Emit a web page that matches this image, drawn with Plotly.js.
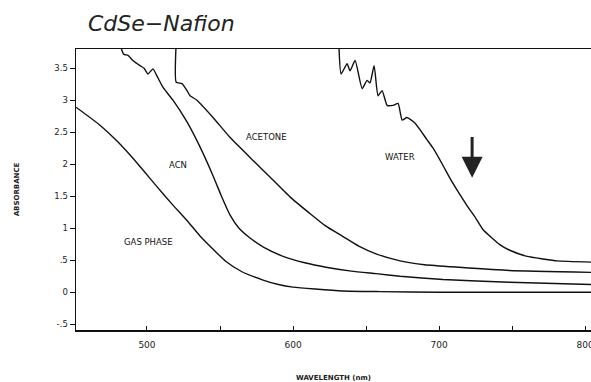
<!DOCTYPE html>
<html>
<head>
<meta charset="utf-8">
<script src="https://cdn.plot.ly/plotly-3.0.1.min.js"></script>
<style>html,body{margin:0;padding:0;background:#fff;}#chart{width:591px;height:382px;}</style>
</head>
<body>
<div id="chart"></div>
<script>
// Wavelength (nm) and absorbance readings per medium
const gasX = [451.4, 467.8, 480, 493.2, 506.8, 517, 527.4, 536.3, 554.1, 565, 579.5, 590, 600, 615, 634, 660, 700, 750, 804];
const gasY = [2.89, 2.61, 2.35, 2.02, 1.65, 1.38, 1.12, 0.88, 0.48, 0.32, 0.19, 0.12, 0.08, 0.05, 0.02, 0.01, 0.0, 0.0, 0.0];

const acnX = [482.5, 484, 487, 490.4, 495.2, 498, 500.7, 504.1, 506.8, 511, 517.8, 527.4, 536.3, 545.2, 551, 557, 563, 569.9, 580, 593.2, 608, 622.6, 640, 656.8, 673.3, 702.7, 748, 804];
const acnY = [3.8, 3.72, 3.7, 3.62, 3.54, 3.5, 3.41, 3.49, 3.38, 3.2, 3.0, 2.66, 2.27, 1.82, 1.5, 1.2, 1.0, 0.86, 0.7, 0.56, 0.46, 0.39, 0.33, 0.29, 0.25, 0.2, 0.155, 0.12];

const acetoneX = [519.8, 520, 524, 527.4, 529.5, 534.2, 545.2, 556.8, 572.6, 584.2, 597.9, 611, 622, 634.2, 645, 656.8, 673.3, 690, 713.7, 748, 804];
const acetoneY = [3.8, 3.28, 3.26, 3.15, 3.07, 3.0, 2.73, 2.42, 2.06, 1.8, 1.49, 1.24, 1.04, 0.87, 0.72, 0.6, 0.49, 0.43, 0.39, 0.34, 0.31];

const waterX = [631.5, 632.9, 637, 639, 642.5, 647.3, 650.7, 652.7, 655.5, 658.2, 661, 664.4, 668.5, 671.9, 674.7, 678, 683.6, 691.8, 695.9, 702.7, 707.5, 714.4, 719.2, 725.3, 730, 741.8, 748, 760.3, 771.2, 780.8, 804];
const waterY = [3.8, 3.41, 3.57, 3.46, 3.62, 3.18, 3.31, 3.27, 3.54, 3.07, 3.15, 2.92, 2.92, 2.95, 2.69, 2.73, 2.64, 2.38, 2.25, 1.98, 1.78, 1.52, 1.35, 1.15, 0.98, 0.74, 0.66, 0.56, 0.52, 0.49, 0.47];

const curveLabels = ["GAS PHASE", "ACN", "ACETONE", "WATER"];
const labelX = [501, 521, 582, 673];
const labelY = [0.79, 1.99, 2.42, 2.11];

const xTickVals = [500, 550, 600, 650, 700, 750, 800];
const xTickText = ["500", "", "600", "", "700", "", "800"];
const yTickVals = [-0.5, 0, 0.5, 1, 1.5, 2, 2.5, 3, 3.5];
const yTickText = ["-.5", "0", ".5", "1", "1.5", "2", "2.5", "3", "3.5"];

const arrowX = 722.6, arrowTop = 2.45, arrowTip = 1.79;

const lineStyle = {color: "#111", width: 1.4, shape: "spline", smoothing: 0.5};
const traces = [
  {x: gasX, y: gasY, name: "GAS PHASE"},
  {x: acnX, y: acnY, name: "ACN"},
  {x: acetoneX, y: acetoneY, name: "ACETONE"},
  {x: waterX, y: waterY, name: "WATER"}
].map(t => Object.assign(t, {type: "scatter", mode: "lines", line: lineStyle, hoverinfo: "skip", cliponaxis: true}));

const font = "DejaVu Sans, Arial, sans-serif";
const annotations = curveLabels.map((t, i) => ({
  x: labelX[i], y: labelY[i], text: t, showarrow: false,
  font: {family: font, size: 8.5, color: "#111"}
}));
annotations.push({
  x: arrowX, y: arrowTip, ax: arrowX, ay: arrowTop, axref: "x", ayref: "y",
  showarrow: true, arrowhead: 2, arrowsize: 1.4, arrowwidth: 3, arrowcolor: "#222", text: ""
});

const layout = {
  width: 591, height: 382,
  margin: {l: 76, r: 0, t: 49, b: 52},
  paper_bgcolor: "#fff", plot_bgcolor: "#fff",
  showlegend: false,
  title: {
    text: "<i>CdSe\u2212Nafion</i>",
    font: {family: "DejaVu Sans, sans-serif", size: 22, color: "#222"},
    xref: "container", yref: "container", x: 0.273, xanchor: "center", y: 0.94, yanchor: "middle"
  },
  xaxis: {
    range: [451.4, 804], showgrid: false, zeroline: false,
    showline: true, linecolor: "#111", linewidth: 1.5, mirror: true,
    ticks: "inside", ticklen: 4, tickcolor: "#111",
    tickvals: xTickVals, ticktext: xTickText,
    tickfont: {family: font, size: 9, color: "#222"},
    ticklabelstandoff: 6, ticklabeloverflow: "allow",
    title: {text: "<b>WAVELENGTH (nm)</b>", font: {family: font, size: 7, color: "#222"}, standoff: 28}
  },
  yaxis: {
    range: [-0.59, 3.8], showgrid: false, zeroline: false,
    showline: true, linecolor: "#111", linewidth: 1.5,
    ticks: "outside", ticklen: 5, tickcolor: "#111",
    tickvals: yTickVals, ticktext: yTickText,
    tickfont: {family: font, size: 8.5, color: "#222"},
    title: {text: "<b>ABSORBANCE</b>", font: {family: font, size: 7, color: "#222"}, standoff: 34}
  },
  annotations: annotations
};

Plotly.newPlot("chart", traces, layout, {staticPlot: true, displayModeBar: false});
</script>
</body>
</html>
